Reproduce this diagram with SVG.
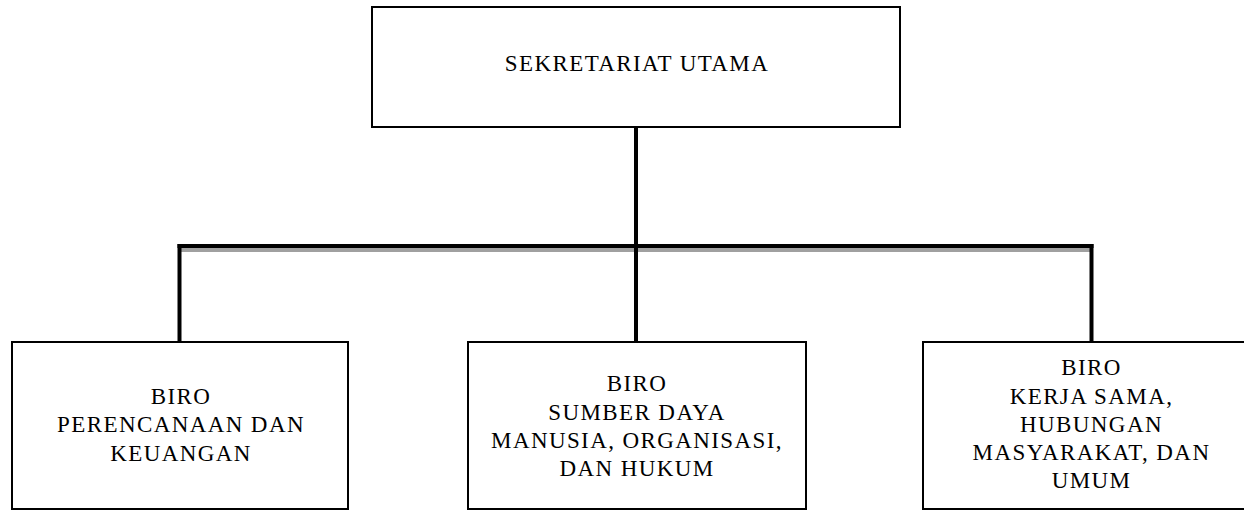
<svg xmlns="http://www.w3.org/2000/svg" width="1244" height="510" viewBox="0 0 1244 510">
<style>
.box{fill:#fff;stroke:#000;stroke-width:2}
.t{font-family:"Liberation Serif","Times New Roman",serif;font-size:23px;letter-spacing:1.4px;fill:#000;text-anchor:middle}
.ln{stroke:#000;stroke-width:4;fill:none}
.sh{stroke:#a0a0a0;stroke-width:4;fill:none}
</style>
<rect width="1244" height="510" fill="#fff"/>
<g id="connectors">
<line class="sh" x1="181" y1="250" x2="1090" y2="250"/>
<line class="ln" x1="636" y1="127" x2="636" y2="246"/>
<line class="ln" x1="177.5" y1="246" x2="1093.5" y2="246"/>
<line class="ln" x1="179.5" y1="244" x2="179.5" y2="343"/>
<line class="ln" x1="636" y1="246" x2="636" y2="343"/>
<line class="ln" x1="1091.5" y1="244" x2="1091.5" y2="343"/>
</g>
<g id="sekretariat-utama">
<rect class="box" x="372" y="7" width="528" height="120"/>
<text class="t" x="637" y="71">SEKRETARIAT UTAMA</text>
</g>
<g id="biro-perencanaan">
<rect class="box" x="12" y="342" width="336" height="167"/>
<text class="t" x="181" y="404">BIRO</text>
<text class="t" x="181" y="432">PERENCANAAN DAN</text>
<text class="t" x="181" y="461">KEUANGAN</text>
</g>
<g id="biro-sdm">
<rect class="box" x="468" y="342" width="338" height="167"/>
<text class="t" x="637" y="391">BIRO</text>
<text class="t" x="637" y="420">SUMBER DAYA</text>
<text class="t" x="637" y="448">MANUSIA, ORGANISASI,</text>
<text class="t" x="637" y="476">DAN HUKUM</text>
</g>
<g id="biro-kerjasama">
<rect class="box" x="923" y="342" width="338" height="167"/>
<text class="t" x="1091.5" y="375">BIRO</text>
<text class="t" x="1091.5" y="404">KERJA SAMA,</text>
<text class="t" x="1091.5" y="432">HUBUNGAN</text>
<text class="t" x="1091.5" y="460">MASYARAKAT, DAN</text>
<text class="t" x="1091.5" y="488">UMUM</text>
</g>
</svg>
